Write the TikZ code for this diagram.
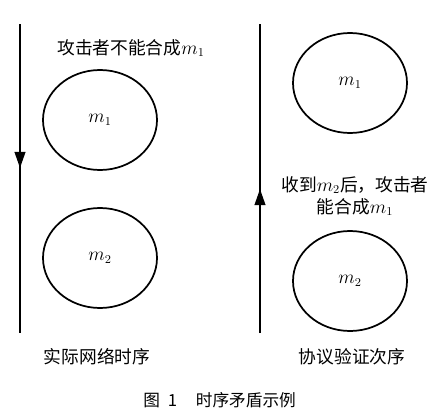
\documentclass[tikz,border=0pt]{standalone}
\usepackage{amsmath,amssymb}
\usepackage{fontspec}
\newfontfamily\cjk{Noto Sans CJK SC}
\usepackage{tikz}
\usetikzlibrary{arrows.meta,shapes,positioning,calc,decorations.markings}
\tikzset{
    msg/.style={
        ellipse,
        draw=black,
        line width=1.3pt,
        minimum width=85.5pt,
        minimum height=75pt,
        inner sep=0pt,
        font=\fontsize{13.3}{16}\selectfont,
    },
    timeline/.style={
        draw,
        line width=1.4pt,
        postaction={decorate},
        decoration={
            markings,
            mark=at position 0.466 with {\arrow{Triangle[length=12pt,width=8pt]}}
        },
    },
    note/.style={
        font=\fontsize{13.3}{16.5}\selectfont\cjk,
        align=center,
        inner sep=0pt,
    },
    figcaption/.style={
        font=\fontsize{12.5}{15}\selectfont\cjk,
        inner sep=0pt,
    },
}
\begin{document}
\begin{tikzpicture}[x=0.75pt,y=-0.75pt]
    \useasboundingbox (0,0) rectangle (439,414);
    \coordinate (LT) at (20,24);
    \coordinate (LB) at (20,333);
    \coordinate (RT) at (260,24);
    \coordinate (RB) at (260,333);
    \draw[timeline] (LT) -- (LB);
    \draw[timeline] (RB) -- (RT);
    \node [msg] (L1) at (100,120) {$m_1$};
    \node [msg] (L2) at (100,258) {$m_2$};
    \node [msg] (R1) at (350,83) {$m_1$};
    \node [msg] (R2) at (350,281) {$m_2$};
    \node [note] (LN) at (131,48) {攻击者不能合成$m_1$};
    \node [note] (RN) at (355,196) {收到$m_2$后，攻击者\\能合成$m_1$};
    \node [note] (LL) at (97,357) {实际网络时序};
    \node [note] (RL) at (352,357) {协议验证次序};
    \node [figcaption, anchor=west] (C) at (143,400) {图\hspace{6pt}1\hspace{14pt}时序矛盾示例};
\end{tikzpicture}
\end{document}
